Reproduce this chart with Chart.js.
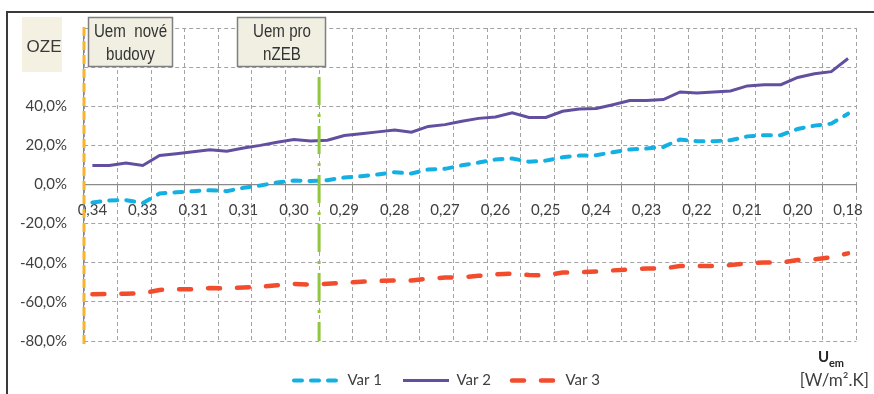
<!DOCTYPE html>
<html>
<head>
<meta charset="utf-8">
<script src="https://cdn.jsdelivr.net/npm/chart.js@4.4.1/dist/chart.umd.min.js"></script>
<style>
    html, body { margin: 0; padding: 0; background: #fff; }
    #wrap { position: relative; width: 874px; height: 394px; overflow: hidden; }
    #frame { position: absolute; left: 6px; top: 11px; width: 900px; height: 400px;
             border-left: 2px solid #3a3a3a; border-top: 2px solid #3a3a3a; }
    canvas { position: absolute; left: 0; top: 0; }
</style>
</head>
<body>
<div id="wrap">
    <div id="frame"></div>
    <canvas id="chartOze" width="874" height="394"></canvas>
</div>
<script>
// Uem categories (only every third one carries a label)
const uemLabels = [
    "0,34", "", "", "0,33", "", "", "0,31", "", "", "0,31", "", "",
    "0,30", "", "", "0,29", "", "", "0,28", "", "", "0,27", "", "",
    "0,26", "", "", "0,25", "", "", "0,24", "", "", "0,23", "", "",
    "0,22", "", "", "0,21", "", "", "0,20", "", "", "0,18"
];

const var1 = [
    -9.2, -8.2, -8.0, -9.5, -4.6, -4.0, -3.4, -2.9, -3.4, -1.7, -0.5, 1.0,
    2.0, 1.8, 2.2, 3.6, 4.2, 5.1, 6.3, 5.6, 7.7, 8.0, 9.8, 11.2,
    12.8, 13.3, 11.6, 12.2, 13.9, 14.8, 15.0, 16.5, 17.9, 18.4, 19.2, 23.0,
    22.1, 22.1, 22.6, 24.6, 25.2, 25.2, 28.4, 30.1, 31.1, 36.2
];

const var2 = [
    9.7, 9.7, 11.0, 9.7, 14.8, 15.7, 16.7, 17.7, 17.0, 18.7, 20.0, 21.6,
    23.0, 22.3, 22.6, 25.0, 25.9, 26.9, 27.9, 26.7, 29.7, 30.6, 32.3, 33.8,
    34.5, 36.6, 34.3, 34.3, 37.4, 38.6, 38.9, 40.8, 42.9, 42.9, 43.4, 47.3,
    46.8, 47.3, 47.8, 50.4, 51.0, 51.0, 54.7, 56.6, 57.7, 64.4
];

const var3 = [
    -56.1, -56.0, -55.8, -55.6, -53.9, -53.6, -53.6, -52.9, -53.2, -52.6, -52.3, -51.5,
    -50.8, -51.2, -50.7, -50.3, -49.7, -49.3, -49.1, -49.1, -48.1, -47.6, -47.4, -46.7,
    -45.9, -45.6, -46.3, -46.4, -45.0, -44.9, -44.5, -43.9, -43.4, -42.9, -42.9, -41.7,
    -41.7, -41.7, -41.2, -40.3, -39.9, -39.9, -38.6, -38.3, -37.2, -35.2
];

// marker lines: category position and vertical extent in %
const markerNewBuildings = { at: -0.5, from: 80.5, to: -82 };
const markerNzeb = { at: 13.5, from: 55, to: -80 };

const gridGray = "#a3a3a3";
const axisGray = "#8a8a8a";
const textGray = "#404040";

const overlayPlugin = {
    id: "ozeOverlay",
    afterDatasetsDraw(chart) {
        const { ctx, scales: { x, y } } = chart;
        const vline = (m, color, width, dash) => {
            const px = x.getPixelForValue(m.at);
            ctx.save();
            ctx.strokeStyle = color;
            ctx.lineWidth = width;
            ctx.setLineDash(dash);
            ctx.beginPath();
            ctx.moveTo(px, y.getPixelForValue(m.from));
            ctx.lineTo(px, y.getPixelForValue(m.to));
            ctx.stroke();
            ctx.restore();
        };
        vline(markerNewBuildings, "#f8b42d", 3, [9, 5]);
        vline(markerNzeb, "#90c73f", 3, [28, 9, 3, 9]);
    },
    afterDraw(chart) {
        const ctx = chart.ctx;
        ctx.save();

        // OZE label
        ctx.fillStyle = "#f4f1e2";
        ctx.fillRect(22, 17, 40, 55);
        ctx.fillStyle = "#3a3a3a";
        ctx.font = "17px 'Liberation Sans', sans-serif";
        ctx.textAlign = "center";
        ctx.textBaseline = "alphabetic";
        ctx.fillText("OZE", 44, 52);

        // text boxes (narrow type)
        const box = (x, w, lines, cx) => {
            ctx.fillStyle = "#f1efe2";
            ctx.fillRect(x, 17.5, w, 49);
            ctx.strokeStyle = "#7f7f7f";
            ctx.lineWidth = 1.5;
            ctx.strokeRect(x, 17.5, w, 49);
            ctx.fillStyle = "#333";
            ctx.font = "18px 'Liberation Sans', sans-serif";
            ctx.save();
            ctx.translate(cx, 0);
            ctx.scale(0.84, 1);
            ctx.fillText(lines[0], 0, 37);
            ctx.fillText(lines[1], 0, 60);
            ctx.restore();
        };
        box(88.5, 84, ["Uem  nové", "budovy"], 130.5);
        box(237.5, 88, ["Uem pro", "nZEB"], 282);

        // x-axis unit
        ctx.fillStyle = "#262626";
        ctx.textAlign = "left";
        ctx.font = "bold 15px Lato, sans-serif";
        ctx.fillText("U", 818, 362);
        ctx.font = "bold 11px Lato, sans-serif";
        ctx.fillText("em", 829, 367);
        ctx.textAlign = "right";
        ctx.fillStyle = textGray;
        ctx.font = "17px Lato, sans-serif";
        ctx.fillText("[W/m\u00B2.K]", 869, 386);
        ctx.restore();
    }
};

const ctxOze = document.getElementById("chartOze").getContext("2d");
const ozeChart = new Chart(ctxOze, {
    type: "line",
    data: {
        labels: uemLabels,
        datasets: [
            {
                label: "Var 1",
                data: var1,
                xAxisID: "x",
                yAxisID: "y",
                borderColor: "#14afe3",
                backgroundColor: "#14afe3",
                borderWidth: 4,
                borderDash: [8, 9],
                borderCapStyle: "round",
                pointRadius: 0
            },
            {
                label: "Var 2",
                data: var2,
                xAxisID: "x",
                yAxisID: "y",
                borderColor: "#634f9f",
                backgroundColor: "#634f9f",
                borderWidth: 3,
                pointRadius: 0
            },
            {
                label: "Var 3",
                data: var3,
                xAxisID: "x",
                yAxisID: "y",
                borderColor: "#f24c2c",
                backgroundColor: "#f24c2c",
                borderWidth: 4.5,
                borderDash: [12, 17],
                borderCapStyle: "round",
                pointRadius: 0
            }
        ]
    },
    options: {
        responsive: false,
        animation: false,
        layout: { padding: { top: 28, right: -20, bottom: -4, left: 0 } },
        scales: {
            x: {
                type: "category",
                position: { y: 0 },
                offset: true,
                grid: {
                    offset: true,
                    color: (c) => (c.index === undefined || c.index % 2 === 0) ? gridGray : "rgba(0,0,0,0)",
                    tickColor: (c) => (c.index === undefined || c.index % 2 === 0) ? axisGray : "rgba(0,0,0,0)",
                    tickLength: 6,
                    lineWidth: 1
                },
                border: { color: axisGray, width: 1.2, dash: [4, 3] },
                ticks: {
                    autoSkip: false,
                    maxRotation: 0,
                    padding: 11,
                    color: textGray,
                    font: { family: "Lato", size: 15 }
                }
            },
            gap: {
                type: "category",
                axis: "x",
                position: "bottom",
                grid: { display: false },
                border: { display: false },
                ticks: { display: false },
                afterFit: (s) => { s.height = 11; }
            },
            y: {
                min: -80,
                max: 80,
                grid: { color: gridGray, drawTicks: false, lineWidth: 1 },
                border: { color: axisGray, width: 1.2, dash: [4, 3] },
                ticks: {
                    stepSize: 20,
                    padding: 17,
                    color: textGray,
                    font: { family: "Lato", size: 15 },
                    callback: (v) => v > 40 ? "" : v.toFixed(1).replace(".", ",") + "%"
                },
                afterFit: (s) => { s.width = 84; }
            },
            gapRight: {
                type: "linear",
                axis: "y",
                position: "right",
                grid: { display: false },
                border: { display: false },
                ticks: { display: false },
                afterFit: (s) => { s.width = 35; }
            }
        },
        plugins: {
            tooltip: { enabled: false },
            legend: {
                position: "bottom",
                labels: {
                    usePointStyle: true,
                    pointStyleWidth: 46,
                    padding: 21,
                    color: textGray,
                    font: { family: "Lato", size: 15 },
                    generateLabels: (chart) => chart.data.datasets.map((ds, i) => ({
                        text: ds.label,
                        fillStyle: ds.borderColor,
                        strokeStyle: ds.borderColor,
                        lineWidth: ds.borderWidth,
                        lineDash: ds.borderDash || [],
                        lineCap: ds.borderCapStyle || "butt",
                        pointStyle: "line",
                        fontColor: textGray,
                        hidden: false,
                        datasetIndex: i
                    }))
                }
            }
        }
    },
    plugins: [overlayPlugin]
});
</script>
</body>
</html>
